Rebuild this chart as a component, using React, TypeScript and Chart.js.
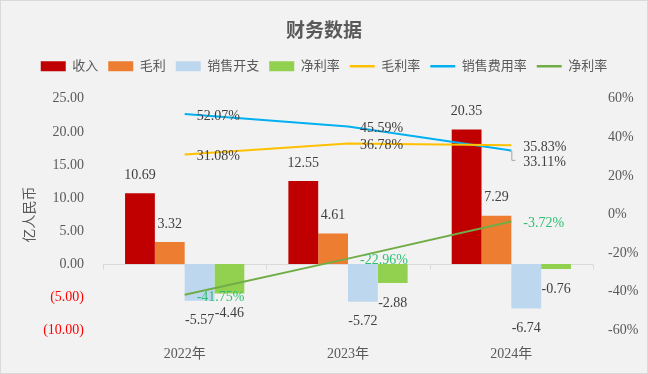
import React, { useEffect, useRef } from "react";
import { Chart, registerables } from "chart.js";

Chart.register(...registerables);

const categories = ["2022年", "2023年", "2024年"];
const revenue = [10.69, 12.55, 20.35];
const grossProfit = [3.32, 4.61, 7.29];
const sellingExpense = [-5.57, -5.72, -6.74];
const netProfit = [-4.46, -2.88, -0.76];
const grossMargin = [31.08, 36.78, 35.83];
const sellingRatio = [52.07, 45.59, 33.11];
const netMargin = [-41.75, -22.96, -3.72];

const leftMin = -10;
const leftMax = 25;
const leftStep = 5;
const rightMin = -60;
const rightMax = 60;
const rightStep = 20;

const FONT = "'Liberation Serif', 'Noto Sans CJK SC', serif";
const GRAY = "#595959";
const LABEL = "#404040";

const dataLabelPlugin = {
  id: "dataLabels",
  beforeInit(chart: any) {
    const legend = chart.legend;
    if (legend) {
      const orig = legend.fit.bind(legend);
      legend.fit = function () {
        orig();
        this.height += 16;
      };
    }
  },
  beforeDatasetsDraw(chart: any) {
    const { ctx, chartArea, scales } = chart;
    const y0 = scales.y.getPixelForValue(0);
    ctx.save();
    ctx.strokeStyle = "#d9d9d9";
    ctx.lineWidth = 1;
    ctx.beginPath();
    const yy = Math.round(y0) + 0.5;
    ctx.moveTo(chartArea.left, yy);
    ctx.lineTo(chartArea.right, yy);
    const n = categories.length;
    const w = (chartArea.right - chartArea.left) / n;
    for (let i = 0; i <= n; i++) {
      const x = Math.round(chartArea.left + i * w) + 0.5;
      ctx.moveTo(x, yy);
      ctx.lineTo(x, yy + 5);
    }
    ctx.stroke();
    ctx.restore();
  },
  afterDatasetsDraw(chart: any) {
    const ctx = chart.ctx;
    ctx.save();
    ctx.font = `14px ${FONT}`;
    const lineItems: any[][] = categories.map(() => []);
    chart.data.datasets.forEach((ds: any, di: number) => {
      const meta = chart.getDatasetMeta(di);
      meta.data.forEach((el: any, i: number) => {
        const v = ds.data[i];
        if (ds.type === "line") {
          lineItems[i].push({
            px: el.x,
            py: el.y,
            x: el.x + 12,
            y: el.y + 2,
            text: v.toFixed(2) + "%",
            color: ds.labelColor,
          });
        } else {
          ctx.textAlign = "center";
          ctx.textBaseline = "middle";
          ctx.fillStyle = LABEL;
          ctx.fillText(v.toFixed(2), el.x, v >= 0 ? el.y - 18 : el.y + 20);
        }
      });
    });
    lineItems.forEach((items) => {
      items.sort((a, b) => a.y - b.y);
      for (let k = 1; k < items.length; k++) {
        if (items[k].y < items[k - 1].y + 15) {
          items[k].y = items[k - 1].y + 15;
          items[k].shifted = true;
        }
      }
      items.forEach((it) => {
        if (it.shifted) {
          ctx.strokeStyle = "#a6a6a6";
          ctx.lineWidth = 1;
          ctx.beginPath();
          ctx.moveTo(it.px - 2, it.py + 0.5);
          ctx.lineTo(it.px + 0.5, it.py + 0.5);
          ctx.lineTo(it.px + 0.5, it.y - 2);
          ctx.lineTo(it.px + 4, it.y - 2);
          ctx.stroke();
        }
        ctx.textAlign = "left";
        ctx.textBaseline = "middle";
        ctx.fillStyle = it.color;
        ctx.fillText(it.text, it.x, it.y);
      });
    });
    ctx.restore();
  },
};

export default function App() {
  const ref = useRef<HTMLCanvasElement | null>(null);
  useEffect(() => {
    if (!ref.current) return;
    const chart = new Chart(ref.current, {
      type: "bar",
      data: {
        labels: categories,
        datasets: [
          { type: "bar", label: "收入", data: revenue, backgroundColor: "#c00000", yAxisID: "y", order: 1 },
          { type: "bar", label: "毛利", data: grossProfit, backgroundColor: "#ed7d31", yAxisID: "y", order: 1 },
          { type: "bar", label: "销售开支", data: sellingExpense, backgroundColor: "#bdd7ee", yAxisID: "y", order: 1 },
          { type: "bar", label: "净利率", data: netProfit, backgroundColor: "#92d050", yAxisID: "y", order: 1 },
          { type: "line", label: "毛利率", data: grossMargin, borderColor: "#ffc000", backgroundColor: "#ffc000", borderWidth: 2, pointRadius: 0, tension: 0, fill: false, yAxisID: "y1", order: 0, labelColor: LABEL },
          { type: "line", label: "销售费用率", data: sellingRatio, borderColor: "#00b0f0", backgroundColor: "#00b0f0", borderWidth: 2, pointRadius: 0, tension: 0, fill: false, yAxisID: "y1", order: 0, labelColor: LABEL },
          { type: "line", label: "净利率", data: netMargin, borderColor: "#70ad47", backgroundColor: "#70ad47", borderWidth: 2, pointRadius: 0, tension: 0, fill: false, yAxisID: "y1", order: 0, labelColor: "#2fbf71" },
        ] as any,
      },
      options: {
        responsive: false,
        animation: false,
        layout: { padding: 0 },
        datasets: { bar: { categoryPercentage: 0.73, barPercentage: 1 } },
        plugins: {
          tooltip: { enabled: false },
          title: {
            display: true,
            text: "财务数据",
            color: GRAY,
            font: { size: 19, weight: "bold", family: FONT },
            padding: { top: 20, bottom: 6 },
          },
          legend: {
            display: true,
            position: "top",
            labels: {
              usePointStyle: true,
              pointStyleWidth: 25,
              boxWidth: 25,
              boxHeight: 10,
              padding: 10,
              color: GRAY,
              font: { size: 13, family: FONT },
              generateLabels: (chart: any) =>
                chart.data.datasets.map((ds: any, i: number) => ({
                  text: ds.label,
                  fillStyle: ds.type === "line" ? ds.borderColor : ds.backgroundColor,
                  strokeStyle: ds.type === "line" ? ds.borderColor : ds.backgroundColor,
                  lineWidth: ds.type === "line" ? 2.5 : 0,
                  pointStyle: ds.type === "line" ? "line" : "rect",
                  fontColor: GRAY,
                  hidden: false,
                  datasetIndex: i,
                })),
            },
          },
        },
        scales: {
          x: {
            grid: { display: false, drawTicks: false },
            border: { display: false },
            ticks: { color: GRAY, font: { size: 14, family: FONT }, padding: 16 },
            afterFit: (s: any) => {
              s.height = 43;
            },
          },
          y: {
            position: "left",
            min: leftMin,
            max: leftMax,
            grid: { display: false, drawTicks: false },
            border: { display: false },
            ticks: {
              stepSize: leftStep,
              padding: 19,
              font: { size: 14, family: FONT },
              color: (c: any) => (c.tick && c.tick.value < 0 ? "#ff0000" : GRAY),
              callback: (v: any) => (v < 0 ? `(${Math.abs(v).toFixed(2)})` : Number(v).toFixed(2)),
            },
            title: {
              display: true,
              text: "亿人民币",
              color: GRAY,
              font: { size: 14, family: FONT },
              padding: { top: 21, bottom: 0 },
            },
            afterFit: (s: any) => {
              s.width = 102;
            },
          },
          y1: {
            position: "right",
            min: rightMin,
            max: rightMax,
            grid: { display: false, drawTicks: false },
            border: { display: false },
            ticks: {
              stepSize: rightStep,
              padding: 15,
              color: GRAY,
              font: { size: 14, family: FONT },
              callback: (v: any) => `${v}%`,
            },
            afterFit: (s: any) => {
              s.width = 54;
            },
          },
        },
      } as any,
      plugins: [dataLabelPlugin],
    });
    return () => chart.destroy();
  }, []);

  return (
    <>
      <style>{`body{margin:0;}`}</style>
      <div
        style={{
          width: 648,
          height: 374,
          boxSizing: "border-box",
          border: "1px solid #d9d9d9",
          background: "#f2f2f2",
          position: "relative",
        }}
      >
        <canvas ref={ref} width={646} height={372} style={{ display: "block", width: 646, height: 372 }} />
      </div>
    </>
  );
}
